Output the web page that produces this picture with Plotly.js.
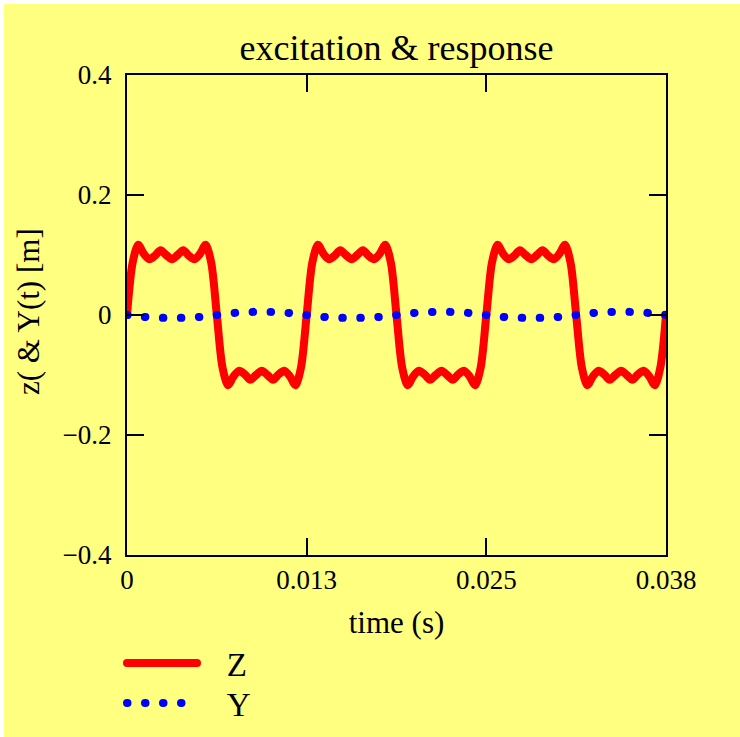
<!DOCTYPE html>
<html>
<head>
<meta charset="utf-8">
<script src="https://cdn.plot.ly/plotly-3.0.1.min.js"></script>
<style>
  html, body { margin: 0; padding: 0; background: #ffffff; }
  #chart { position: absolute; left: 4px; top: 4px; width: 736px; height: 733px; }
  .js-line { stroke-linecap: round; stroke-linejoin: round; }
</style>
</head>
<body>
<div id="chart"></div>
<script>
// time samples (s)
const timeS = [
  0, 0.00039, 0.00078, 0.00117, 0.00156, 0.00195, 0.00234, 0.00273, 0.00313, 0.00352,
  0.00391, 0.0043, 0.00469, 0.00508, 0.00547, 0.00586, 0.00625, 0.00664, 0.00703, 0.00742,
  0.00781, 0.0082, 0.00859, 0.00898, 0.00938, 0.00977, 0.01016, 0.01055, 0.01094, 0.01133,
  0.01172, 0.01211, 0.0125, 0.01289, 0.01328, 0.01367, 0.01406, 0.01445, 0.01484, 0.01523,
  0.01563, 0.01602, 0.01641, 0.0168, 0.01719, 0.01758, 0.01797, 0.01836, 0.01875, 0.01914,
  0.01953, 0.01992, 0.02031, 0.0207, 0.02109, 0.02148, 0.02188, 0.02227, 0.02266, 0.02305,
  0.02344, 0.02383, 0.02422, 0.02461, 0.025, 0.02539, 0.02578, 0.02617, 0.02656, 0.02695,
  0.02734, 0.02773, 0.02813, 0.02852, 0.02891, 0.0293, 0.02969, 0.03008, 0.03047, 0.03086,
  0.03125, 0.03164, 0.03203, 0.03242, 0.03281, 0.0332, 0.03359, 0.03398, 0.03438, 0.03477,
  0.03516, 0.03555, 0.03594, 0.03633, 0.03672, 0.03711, 0.0375
];

// excitation Z (m)
const zValues = [
  0, 0.087, 0.117, 0.102, 0.093, 0.099, 0.108, 0.100, 0.093, 0.100, 0.108, 0.099, 0.093, 0.102, 0.117, 0.087,
  0, -0.087, -0.117, -0.102, -0.093, -0.099, -0.108, -0.100, -0.093, -0.100, -0.108, -0.099, -0.093, -0.102, -0.117, -0.087,
  0, 0.087, 0.117, 0.102, 0.093, 0.099, 0.108, 0.100, 0.093, 0.100, 0.108, 0.099, 0.093, 0.102, 0.117, 0.087,
  0, -0.087, -0.117, -0.102, -0.093, -0.099, -0.108, -0.100, -0.093, -0.100, -0.108, -0.099, -0.093, -0.102, -0.117, -0.087,
  0, 0.087, 0.117, 0.102, 0.093, 0.099, 0.108, 0.100, 0.093, 0.100, 0.108, 0.099, 0.093, 0.102, 0.117, 0.087,
  0, -0.087, -0.117, -0.102, -0.093, -0.099, -0.108, -0.100, -0.093, -0.100, -0.108, -0.099, -0.093, -0.102, -0.117, -0.087,
  0
];

// response Y (m)
const yValues = [
  0, -0.0012, -0.0022, -0.0031, -0.0038, -0.0043, -0.0046, -0.0048, -0.0048, -0.0048, -0.0046, -0.0043, -0.0038, -0.0031, -0.0022, -0.0012,
  0, 0.0012, 0.0023, 0.0033, 0.0041, 0.0047, 0.0051, 0.0053, 0.0054, 0.0053, 0.0051, 0.0047, 0.0041, 0.0033, 0.0023, 0.0012,
  0, -0.0012, -0.0022, -0.0031, -0.0038, -0.0043, -0.0046, -0.0048, -0.0048, -0.0048, -0.0046, -0.0043, -0.0038, -0.0031, -0.0022, -0.0012,
  0, 0.0012, 0.0023, 0.0033, 0.0041, 0.0047, 0.0051, 0.0053, 0.0054, 0.0053, 0.0051, 0.0047, 0.0041, 0.0033, 0.0023, 0.0012,
  0, -0.0012, -0.0022, -0.0031, -0.0038, -0.0043, -0.0046, -0.0048, -0.0048, -0.0048, -0.0046, -0.0043, -0.0038, -0.0031, -0.0022, -0.0012,
  0, 0.0012, 0.0023, 0.0033, 0.0041, 0.0047, 0.0051, 0.0053, 0.0054, 0.0053, 0.0051, 0.0047, 0.0041, 0.0033, 0.0023, 0.0012,
  0
];

const xTickVals = [0, 0.0125, 0.025, 0.0375];
const xTickText = ['0', '0.013', '0.025', '0.038'];
const yTickVals = [-0.4, -0.2, 0, 0.2, 0.4];
const yTickText = ['\u22120.4', '\u22120.2', '0', '0.2', '0.4'];

const serif = '"Liberation Serif", "Times New Roman", serif';
const NB = '\u00a0\u00a0\u00a0';

const traces = [
  {
    x: timeS, y: zValues, name: NB + 'Z', type: 'scatter', mode: 'lines', legend: 'legend',
    line: { color: '#ff0000', width: 8, shape: 'spline', smoothing: 0.8 }
  },
  {
    x: timeS, y: yValues, name: NB + 'Y', type: 'scatter', mode: 'lines', legend: 'legend2',
    line: { color: '#0000ff', width: 8, dash: '0.5px,17.5px', shape: 'spline' }
  }
];

const axisCommon = {
  ticks: 'inside', ticklen: 17, tickwidth: 2, tickcolor: '#000',
  mirror: 'allticks', showline: true, linewidth: 2, linecolor: '#000',
  showgrid: false, zeroline: false, automargin: false,
  tickfont: { family: serif, size: 27, color: '#000' }
};

const legendCommon = {
  xref: 'container', yref: 'container', x: 118 / 736,
  xanchor: 'left', yanchor: 'top', bgcolor: 'rgba(0,0,0,0)', borderwidth: 0,
  font: { family: serif, size: 33, color: '#000' }, itemwidth: 70
};

const layout = {
  width: 736, height: 733,
  paper_bgcolor: '#ffff80', plot_bgcolor: '#ffff80',
  margin: { l: 123, r: 74, t: 71, b: 182, autoexpand: false },
  font: { family: serif, color: '#000', size: 27 },
  title: {
    text: 'excitation & response', font: { family: serif, size: 36, color: '#000' },
    x: 0.5, xref: 'paper', xanchor: 'center', y: 1 - 43 / 733, yref: 'container', yanchor: 'middle'
  },
  xaxis: Object.assign({}, axisCommon, {
    range: [0, 0.0375], tickmode: 'array', tickvals: xTickVals, ticktext: xTickText,
    title: { text: 'time (s)', font: { family: serif, size: 31, color: '#000' }, standoff: 17 }
  }),
  yaxis: Object.assign({}, axisCommon, {
    range: [-0.4, 0.4], tickmode: 'array', tickvals: yTickVals, ticktext: yTickText,
    ticklabelstandoff: 8
  }),
  annotations: [{
    text: 'z( & Y(t) [m]', xref: 'paper', yref: 'paper',
    x: (28 - 127) / 539, y: (555 - 312) / 480, xanchor: 'center', yanchor: 'middle',
    textangle: -90, showarrow: false, font: { family: serif, size: 31, color: '#000' }
  }],
  showlegend: true,
  legend: Object.assign({}, legendCommon, { y: 1 - 631 / 733 }),
  legend2: Object.assign({}, legendCommon, { y: 1 - 671 / 733 })
};

Plotly.newPlot('chart', traces, layout, { displayModeBar: false, staticPlot: true });
</script>
</body>
</html>
